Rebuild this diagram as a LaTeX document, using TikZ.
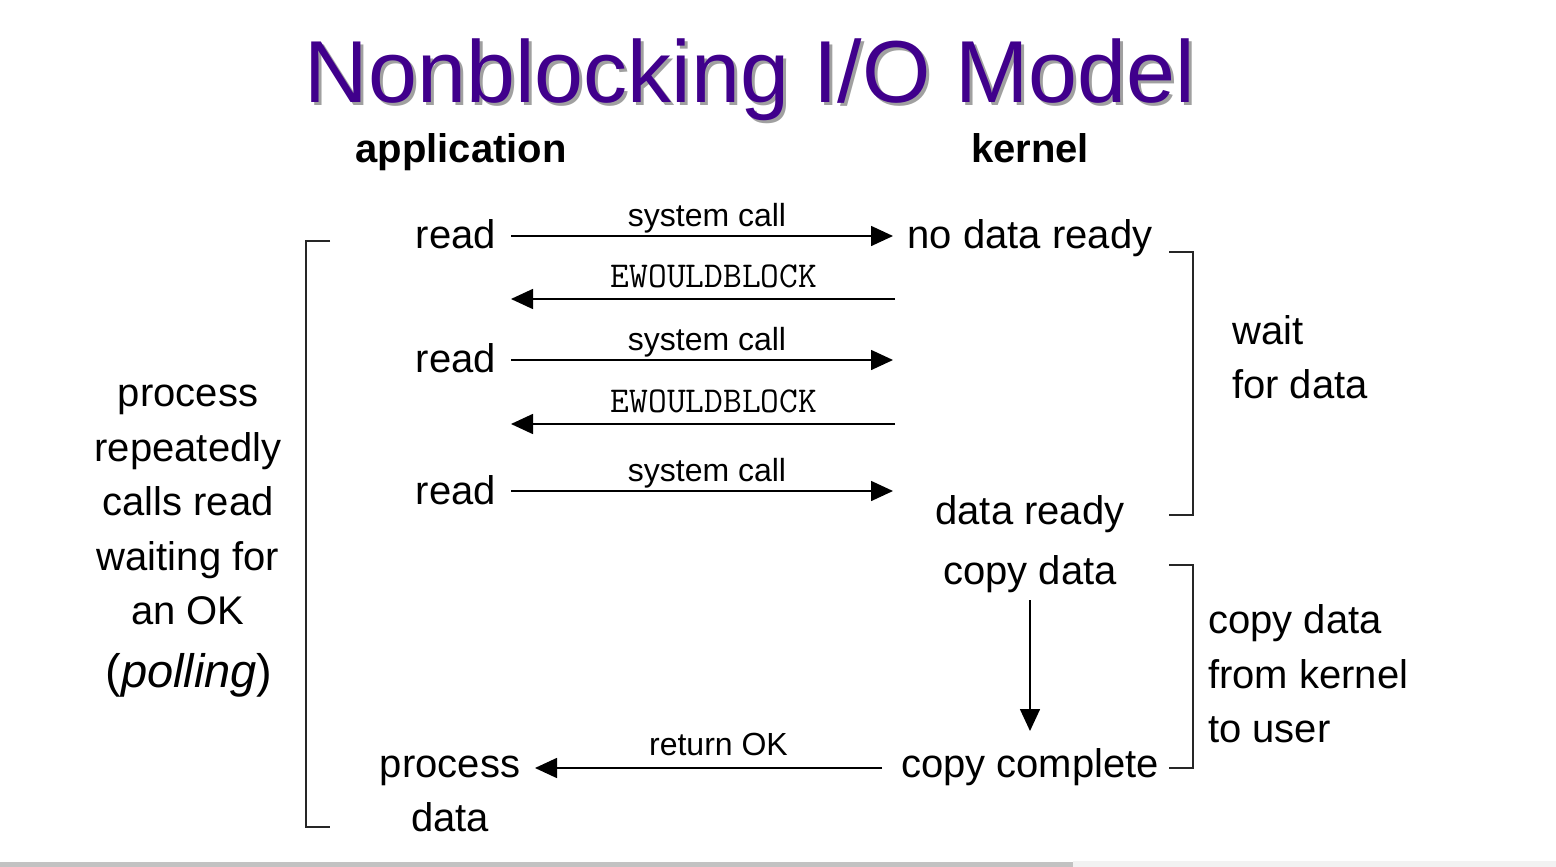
\documentclass[tikz,border=0pt]{standalone}
\usepackage{fontspec}
\setmainfont{Liberation Sans}
\usetikzlibrary{arrows.meta}
\definecolor{titlepurple}{RGB}{64,0,140}
\definecolor{shadowgray}{RGB}{160,160,160}
\begin{document}
\begin{tikzpicture}[x=1pt,y=-1pt,
  txt/.style={inner sep=0pt,font=\fontsize{40}{54.5}\selectfont,text height=0.72em,text depth=0.2em},
  lbl/.style={inner sep=0pt,font=\fontsize{32}{38}\selectfont,text height=0.72em,text depth=0.2em},
  mono/.style={inner sep=0pt,font=\ttfamily\fontsize{36.4}{40}\selectfont,text height=0.62em,text depth=0.1em},
  arr/.style={line width=1.6pt,-{Triangle[length=22pt,width=20pt]}},
  brk/.style={line width=1.8pt,black!85}]
\useasboundingbox (0,0) rectangle (1556,867);
\fill[white] (0,0) rectangle (1556,867);
% bottom bar
\fill[black!5] (1073,861) rectangle (1556,867);
\fill[black!24] (0,862) rectangle (1073,867);
% title
\node[inner sep=0pt,text=shadowgray,font=\fontsize{88}{100}\selectfont] (titleshadow) at (753,83) {Nonblocking I/O Model};
\node[inner sep=0pt,text=titlepurple,font=\fontsize{88}{100}\selectfont] (title) at (750,80) {Nonblocking I/O Model};
% headers
\node[txt,font=\bfseries\fontsize{40}{50}\selectfont] (app) at (461,160) {application};
\node[txt,font=\bfseries\fontsize{40}{50}\selectfont] (kern) at (1030,160) {kernel};
% application side
\node[txt] (r1) at (456,246) {read};
\node[txt] (r2) at (456,370) {read};
\node[txt] (r3) at (456,502) {read};
\node[txt,align=center] (pd) at (450,829) {process\\data};
% kernel side
\node[txt] (ndr) at (1030,246) {no data ready};
\node[txt] (dr) at (1030,522) {data ready};
\node[txt] (cd) at (1030,582) {copy data};
\node[txt] (cc) at (1030,775) {copy complete};
% arrow endpoints
\coordinate (a1) at (511,236); \coordinate (k1) at (893,236);
\coordinate (a2) at (511,299); \coordinate (k2) at (895,299);
\coordinate (a3) at (511,360); \coordinate (k3) at (893,360);
\coordinate (a4) at (511,424); \coordinate (k4) at (895,424);
\coordinate (a5) at (511,491); \coordinate (k5) at (893,491);
\coordinate (a6) at (535,768); \coordinate (k6) at (882,768);
\coordinate (v1) at (1030,600); \coordinate (v2) at (1030,731);
\draw[arr] (a1) -- node[lbl,above=7pt,xshift=5pt] (sc1) {system call} (k1);
\draw[arr] (k2) -- node[mono,above=10pt,xshift=11pt] (ew1) {EWOULDBLOCK} (a2);
\draw[arr] (a3) -- node[lbl,above=7pt,xshift=5pt] (sc2) {system call} (k3);
\draw[arr] (k4) -- node[mono,above=10pt,xshift=11pt] (ew2) {EWOULDBLOCK} (a4);
\draw[arr] (a5) -- node[lbl,above=7pt,xshift=5pt] (sc3) {system call} (k5);
\draw[arr] (k6) -- node[lbl,above=10pt,xshift=10pt] (rok) {return OK} (a6);
\draw[arr] (v1) -- (v2);
% left bracket and text
\coordinate (lb1) at (330,241); \coordinate (lb2) at (306,241);
\coordinate (lb3) at (306,827); \coordinate (lb4) at (330,827);
\draw[brk] (lb1) -- (lb2) -- (lb3) -- (lb4);
\node[txt,align=center] (poll) at (188,622) {process\\repeatedly\\calls read\\waiting for\\an OK};
\node[txt,font=\fontsize{47}{55}\selectfont] (polling) at (189,685) {(\textit{polling})};
% right brackets and text
\coordinate (rb1) at (1169,252); \coordinate (rb2) at (1193,252);
\coordinate (rb3) at (1193,515); \coordinate (rb4) at (1169,515);
\draw[brk] (rb1) -- (rb2) -- (rb3) -- (rb4);
\coordinate (rc1) at (1169,565); \coordinate (rc2) at (1193,565);
\coordinate (rc3) at (1193,768); \coordinate (rc4) at (1169,768);
\draw[brk] (rc1) -- (rc2) -- (rc3) -- (rc4);
\node[txt,align=left,anchor=west] (wait) at (1232,396) {wait\\for data};
\node[txt,align=left,anchor=west] (copy) at (1208,740) {copy data\\from kernel\\to user};
\end{tikzpicture}
\end{document}
